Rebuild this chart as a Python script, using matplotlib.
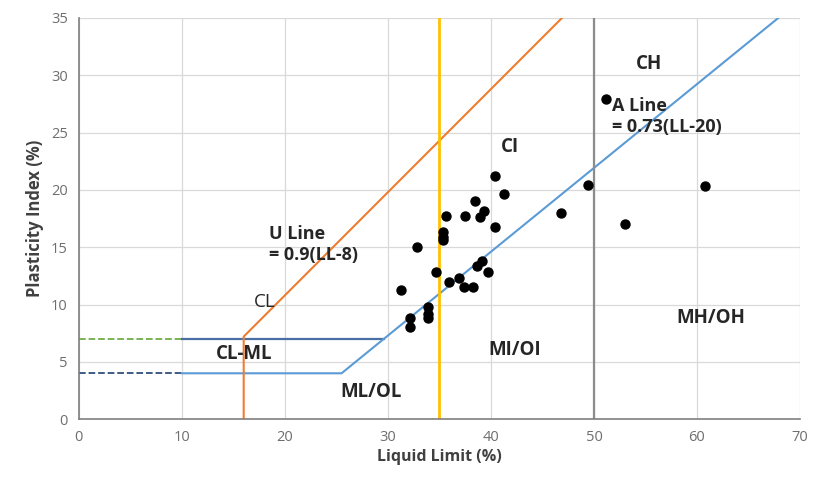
import numpy as np
import matplotlib
matplotlib.use("Agg")
import matplotlib.pyplot as plt

plt.rcParams['font.family'] = ['Open Sans', 'DejaVu Sans']

# sample points
liquid_limit = [31.3, 32.1, 32.1, 32.8, 33.9, 33.9, 33.9, 34.7, 35.3, 35.3, 35.3,
                35.6, 35.9, 36.9, 37.4, 37.5, 38.3, 38.5, 38.6, 38.9, 39.1, 39.3,
                39.7, 40.4, 40.4, 41.3, 46.8, 49.4, 51.2, 53.0, 60.8]
plasticity_index = [11.3, 8.8, 8.0, 15.0, 9.8, 9.2, 8.8, 12.8, 16.3, 15.9, 15.6,
                    17.7, 12.0, 12.3, 11.5, 17.7, 11.5, 19.0, 13.4, 17.6, 13.8, 18.2,
                    12.8, 21.2, 16.8, 19.6, 18.0, 20.4, 27.9, 17.0, 20.3]

# chart boundary lines
u_line_x = [16, 16, 46.9]
u_line_y = [0, 7.2, 35]
a_line_x = [10, 25.5, 67.9]
a_line_y = [4, 4, 35]
cl_ml_top_x = [10, 29.6]
cl_ml_top_y = [7, 7]
dash_low_x = [0, 10]
dash_low_y = [4, 4]
dash_high_x = [0, 10]
dash_high_y = [7, 7]

zone_labels = [
    ("CH", 55.3, 31.0),
    ("CI", 41.8, 23.7),
    ("CL-ML", 16.0, 5.7),
    ("ML/OL", 28.4, 2.4),
    ("MI/OI", 42.3, 6.0),
    ("MH/OH", 61.3, 8.8),
]

fig = plt.figure(figsize=(8.13, 4.84), dpi=100)
ax = fig.add_axes([0.097, 0.134, 0.887, 0.829])

ax.set_xlim(0, 70)
ax.set_ylim(0, 35)
ax.set_xticks(np.arange(0, 71, 10))
ax.set_yticks(np.arange(0, 36, 5))
ax.grid(True, color='#d9d9d9', linewidth=0.9)
ax.set_axisbelow(True)
for s in ['top', 'right']:
    ax.spines[s].set_visible(False)
for s in ['left', 'bottom']:
    ax.spines[s].set_color('#7f7f7f')
    ax.spines[s].set_linewidth(1.2)
ax.tick_params(length=0, colors='#6e6e6e', labelsize=10.5, pad=8)

ax.plot(dash_high_x, dash_high_y, color='#70ad47', linestyle='--', linewidth=1.3)
ax.plot(dash_low_x, dash_low_y, color='#2f4f7f', linestyle='--', linewidth=1.3)
ax.plot(cl_ml_top_x, cl_ml_top_y, color='#4a6fa5', linewidth=1.6)
ax.plot(a_line_x, a_line_y, color='#5b9bd5', linewidth=1.5)
ax.plot(u_line_x, u_line_y, color='#ed7d31', linewidth=1.5)
ax.axvline(35, color='#ffc000', linewidth=2.0)
ax.axvline(50, color='#8c8c8c', linewidth=1.6)

ax.scatter(liquid_limit, plasticity_index, s=42, color='black', zorder=5)

for txt, x, y in zone_labels:
    ax.text(x, y, txt, ha='center', va='center', fontsize=13.5,
            fontweight='bold', color='#262626')
ax.text(18.0, 10.2, "CL", ha='center', va='center', fontsize=13.5,
        color='#262626')

ax.text(18.5, 15.2, "U Line\n= 0.9(LL-8)", ha='left', va='center', fontsize=13,
        fontweight='bold', color='#262626', linespacing=1.2)
ax.text(51.8, 26.4, "A Line\n= 0.73(LL-20)", ha='left', va='center', fontsize=13,
        fontweight='bold', color='#262626', linespacing=1.2)

ax.set_xlabel("Liquid Limit (%)", fontsize=11.5, fontweight='bold', color='#404040', labelpad=3)
ax.set_ylabel("Plasticity Index (%)", fontsize=12, fontweight='bold', color='#404040', labelpad=5)

fig.savefig("out.png", dpi=100)
